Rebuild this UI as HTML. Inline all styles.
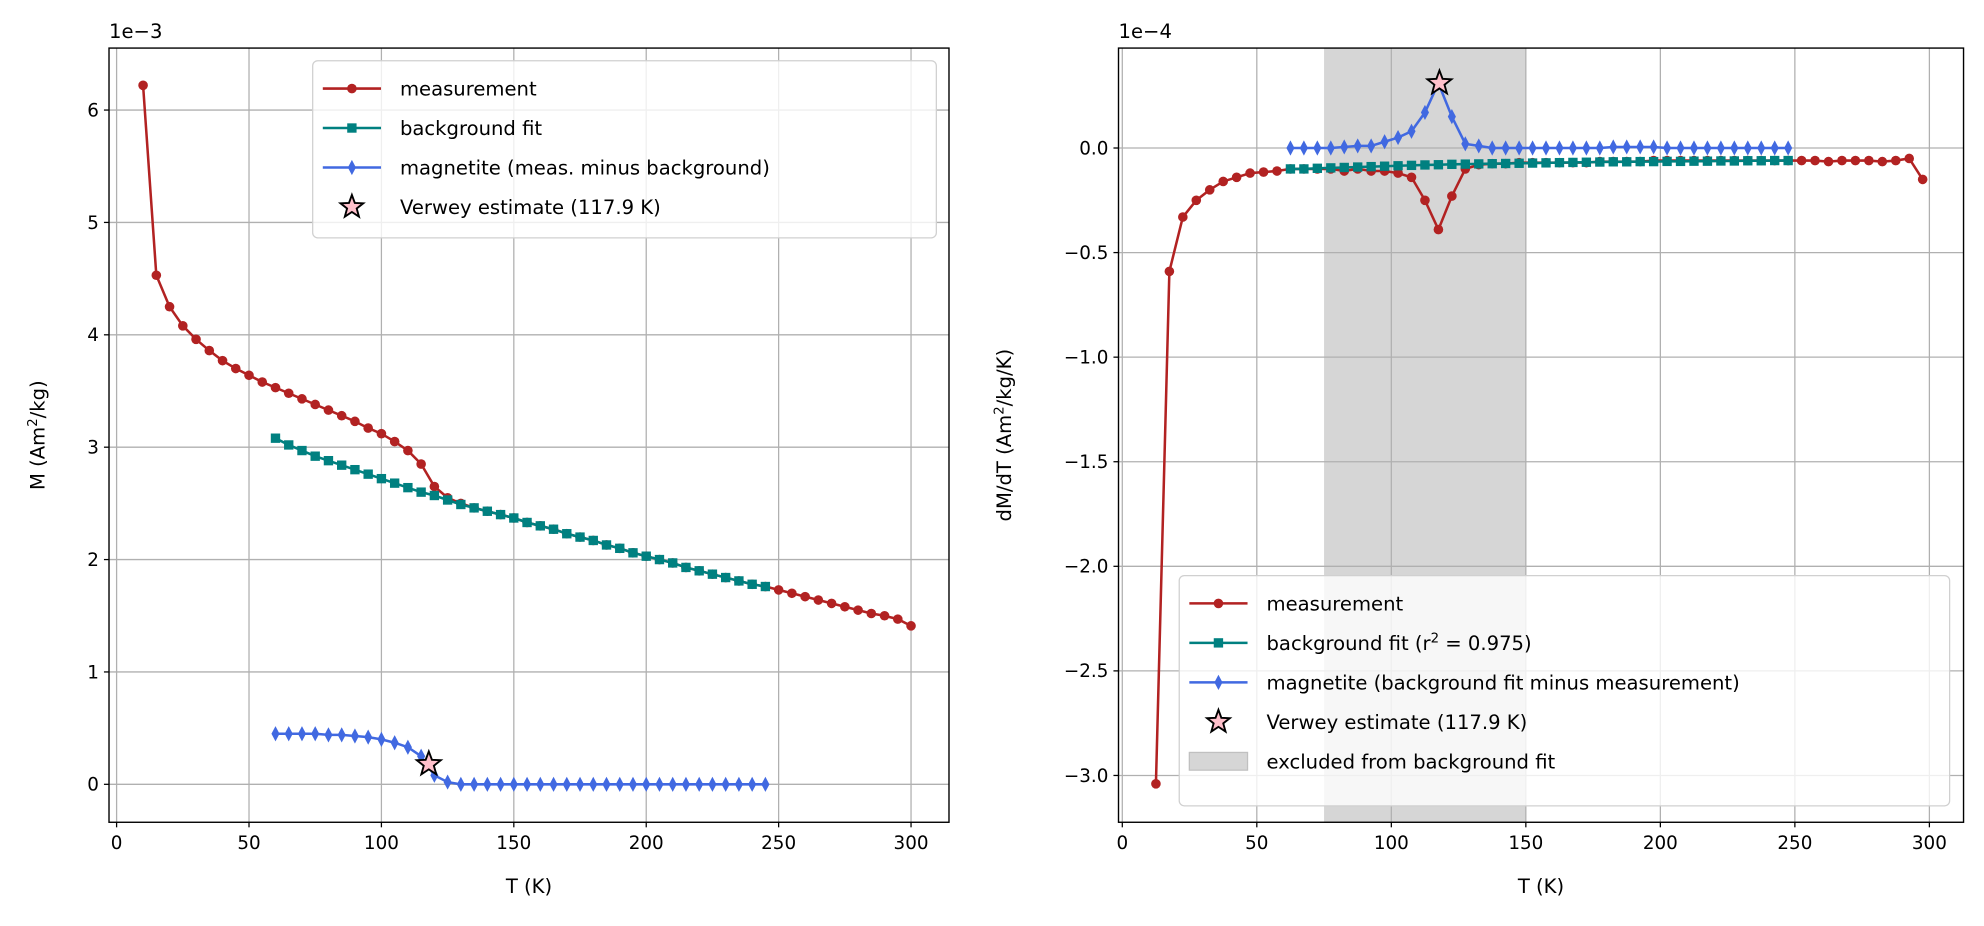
<!DOCTYPE html>
<html><head><meta charset="utf-8"><style>
body{margin:0;background:#fff}
svg{display:block;font-family:"DejaVu Sans","Liberation Sans",sans-serif}
</style></head><body>
<svg id="fig" width="1984" height="926" viewBox="0 0 1568 732" xmlns="http://www.w3.org/2000/svg">
<rect width="1568" height="732" fill="#fff"/>
</svg>
<script>
// ---- Left panel data (M, 1e-3 Am2/kg) ----
const leftMeasT = [10,15,20,25,30,35,40,45,50,55,60,65,70,75,80,85,90,95,100,105,110,115,120,125,130,135,140,145,150,155,160,165,170,175,180,185,190,195,200,205,210,215,220,225,230,235,240,245,250,255,260,265,270,275,280,285,290,295,300];
const leftMeasM = [6.22,4.53,4.25,4.08,3.96,3.86,3.77,3.70,3.64,3.58,3.53,3.48,3.43,3.38,3.33,3.28,3.23,3.17,3.12,3.05,2.97,2.85,2.65,2.55,2.50,2.46,2.43,2.40,2.37,2.33,2.30,2.27,2.23,2.20,2.17,2.13,2.10,2.06,2.03,2.00,1.97,1.93,1.90,1.87,1.84,1.81,1.78,1.76,1.73,1.70,1.67,1.64,1.61,1.58,1.55,1.52,1.50,1.47,1.41];
const leftFitT = [60,65,70,75,80,85,90,95,100,105,110,115,120,125,130,135,140,145,150,155,160,165,170,175,180,185,190,195,200,205,210,215,220,225,230,235,240,245];
const leftFitM = [3.08,3.02,2.97,2.92,2.88,2.84,2.80,2.76,2.72,2.68,2.64,2.60,2.57,2.53,2.49,2.46,2.43,2.40,2.37,2.33,2.30,2.27,2.23,2.20,2.17,2.13,2.10,2.06,2.03,2.00,1.97,1.93,1.90,1.87,1.84,1.81,1.78,1.76];
const leftMagM = [0.45,0.45,0.45,0.45,0.44,0.44,0.43,0.42,0.40,0.37,0.33,0.25,0.08,0.02,0,0,0,0,0,0,0,0,0,0,0,0,0,0,0,0,0,0,0,0,0,0,0,0];
const leftStar = [117.9, 0.18];
const leftXTicks = [0,50,100,150,200,250,300];
const leftYTicks = [0,1,2,3,4,5,6];
// ---- Right panel data (dM/dT, 1e-4) ----
const rightMeasT = [12.5,17.5,22.5,27.5,32.5,37.5,42.5,47.5,52.5,57.5,62.5,67.5,72.5,77.5,82.5,87.5,92.5,97.5,102.5,107.5,112.5,117.5,122.5,127.5,132.5,137.5,142.5,147.5,152.5,157.5,162.5,167.5,172.5,177.5,182.5,187.5,192.5,197.5,202.5,207.5,212.5,217.5,222.5,227.5,232.5,237.5,242.5,247.5,252.5,257.5,262.5,267.5,272.5,277.5,282.5,287.5,292.5,297.5];
const rightMeasV = [-3.04,-0.59,-0.33,-0.25,-0.20,-0.16,-0.14,-0.12,-0.115,-0.11,-0.10,-0.10,-0.10,-0.10,-0.11,-0.10,-0.11,-0.11,-0.12,-0.14,-0.25,-0.39,-0.23,-0.10,-0.08,-0.075,-0.075,-0.07,-0.07,-0.07,-0.07,-0.07,-0.07,-0.065,-0.065,-0.065,-0.065,-0.06,-0.06,-0.06,-0.06,-0.06,-0.06,-0.06,-0.06,-0.06,-0.06,-0.06,-0.06,-0.06,-0.065,-0.06,-0.06,-0.06,-0.065,-0.06,-0.05,-0.15];
const rightFitT = [62.5,67.5,72.5,77.5,82.5,87.5,92.5,97.5,102.5,107.5,112.5,117.5,122.5,127.5,132.5,137.5,142.5,147.5,152.5,157.5,162.5,167.5,172.5,177.5,182.5,187.5,192.5,197.5,202.5,207.5,212.5,217.5,222.5,227.5,232.5,237.5,242.5,247.5];
const rightFitV = [-0.10,-0.10,-0.097,-0.095,-0.093,-0.091,-0.089,-0.087,-0.085,-0.083,-0.081,-0.080,-0.078,-0.077,-0.076,-0.075,-0.074,-0.073,-0.072,-0.071,-0.070,-0.069,-0.068,-0.067,-0.066,-0.066,-0.065,-0.065,-0.064,-0.064,-0.063,-0.063,-0.062,-0.062,-0.061,-0.061,-0.060,-0.060];
const rightMagV = [0,0,0,0,0.005,0.01,0.01,0.03,0.05,0.08,0.17,0.31,0.15,0.02,0.01,0,0,0,0,0,0,0,0,0,0.005,0.005,0.005,0.005,0,0,0,0,0,0,0,0,0,0];
const rightStar = [117.9, 0.31];
const rightXTicks = [0,50,100,150,200,250,300];
const rightYTicks = [0,-0.5,-1.0,-1.5,-2.0,-2.5,-3.0];
const excluded = [75,150];

const NS="http://www.w3.org/2000/svg";
const svg=document.getElementById('fig');
function mk(tag,attrs,parent){const e=document.createElementNS(NS,tag);for(const k in attrs)e.setAttribute(k,attrs[k]);(parent||svg).appendChild(e);return e;}
function txt(s,attrs,parent){const e=mk('text',attrs,parent);e.textContent=s;return e;}
const RED="#b22222",TEAL="#008080",BLUE="#4169e1";

function axes(cfg){
  const g=mk('g',{});
  
  
  const X=v=>cfg.x0+(v-cfg.xmin)*(cfg.x1-cfg.x0)/(cfg.xmax-cfg.xmin);
  const Y=v=>cfg.y0+(v-cfg.ymin)*(cfg.y1-cfg.y0)/(cfg.ymax-cfg.ymin);
  if(cfg.span){const r=mk('rect',{x:X(cfg.span[0]),y:cfg.top,width:X(cfg.span[1])-X(cfg.span[0]),height:cfg.bottom-cfg.top,fill:'#d6d6d6'},g);
    
    }
  cfg.xt.forEach(t=>{mk('line',{x1:X(t),x2:X(t),y1:cfg.top,y2:cfg.bottom,stroke:'#b0b0b0','stroke-width':1},g);
    mk('line',{x1:X(t),x2:X(t),y1:cfg.bottom,y2:cfg.bottom+4,stroke:'#000','stroke-width':1},g);
    const l=txt(String(t),{x:X(t),y:cfg.bottom+21,'text-anchor':'middle','font-size':14.5},g);
    
    });
  cfg.yt.forEach(t=>{mk('line',{x1:cfg.left,x2:cfg.right,y1:Y(t),y2:Y(t),stroke:'#b0b0b0','stroke-width':1},g);
    mk('line',{x1:cfg.left-4,x2:cfg.left,y1:Y(t),y2:Y(t),stroke:'#000','stroke-width':1},g);
    const s=cfg.fmt?cfg.fmt(t):String(t);
    const l=txt(s,{x:cfg.left-8,y:Y(t)+5,'text-anchor':'end','font-size':14.5},g);
    
    });
  const series=(xs,ys,color,marker,name)=>{
    const sg=mk('g',{},g);
    
    
    mk('polyline',{points:xs.map((x,i)=>X(x)+','+Y(ys[i])).join(' '),fill:'none',stroke:color,'stroke-width':2},sg);
    xs.forEach((x,i)=>drawMarker(sg,marker,X(x),Y(ys[i]),color));
  };
  cfg.series.forEach(s=>series(s[0],s[1],s[2],s[3],s[4]));
  const st=mk('polygon',{points:starPts(X(cfg.star[0]),Y(cfg.star[1]),10),fill:'#ffc0cb',stroke:'#000','stroke-width':1.5},g);
  
  
  mk('rect',{x:cfg.left,y:cfg.top,width:cfg.right-cfg.left,height:cfg.bottom-cfg.top,fill:'none',stroke:'#000','stroke-width':1.1},g);
  return g;
}
function starPts(cx,cy,r){let p=[];for(let i=0;i<10;i++){const a=-Math.PI/2+i*Math.PI/5;const rr=i%2?r*0.42:r;p.push((cx+rr*Math.cos(a)).toFixed(1)+','+(cy+rr*Math.sin(a)).toFixed(1));}return p.join(' ');}
function drawMarker(g,m,x,y,c){
  if(m==='o')mk('circle',{cx:x,cy:y,r:3.8,fill:c},g);
  else if(m==='s')mk('rect',{x:x-3.7,y:y-3.7,width:7.4,height:7.4,fill:c},g);
  else mk('polygon',{points:`${x},${y-6} ${x+3.2},${y} ${x},${y+6} ${x-3.2},${y}`,fill:c},g);
}
function legend(x,y,w,h,items,name){
  const g=mk('g',{});
  
  
  mk('rect',{x,y,width:w,height:h,rx:4,fill:'rgba(255,255,255,0.8)',stroke:'#d0d0d0','stroke-width':1},g);
  items.forEach((it,i)=>{
    const cy=y+22+i*31.2;
    const eg=mk('g',{},g);
    
    
    if(it.type==='line'){mk('line',{x1:x+8,x2:x+54,y1:cy,y2:cy,stroke:it.c,'stroke-width':2},eg);drawMarker(eg,it.m,x+31,cy,it.c);}
    else if(it.type==='star'){mk('polygon',{points:starPts(x+31,cy,9.5),fill:'#ffc0cb',stroke:'#000','stroke-width':1.5},eg);}
    else {mk('rect',{x:x+8,y:cy-7,width:46,height:14,fill:'#d6d6d6',stroke:'#c0c0c0'},eg);}
    const t=mk('text',{x:x+69,y:cy+5.5,'font-size':15.5},eg);
    t.innerHTML=it.t;
  });
}

axes({name:'left-axes',left:86,right:750,top:38,bottom:650,xmin:0,xmax:300,x0:92,x1:720,ymin:0,ymax:6,y0:620,y1:87,
  xt:leftXTicks,yt:leftYTicks,star:leftStar,
  series:[[leftMeasT,leftMeasM,RED,'o','measurement-series'],[leftFitT,leftFitM,TEAL,'s','background-fit-series'],[leftFitT,leftMagM,BLUE,'d','magnetite-series']]});
axes({name:'right-axes',left:884,right:1552,top:38,bottom:650,xmin:0,xmax:300,x0:887,x1:1525,ymin:0,ymax:-3,y0:117,y1:613,
  xt:rightXTicks,yt:rightYTicks,star:rightStar,span:excluded,fmt:t=>(t<0?'\u2212':'')+Math.abs(t).toFixed(1),
  series:[[rightMeasT,rightMeasV,RED,'o','measurement-series'],[rightFitT,rightFitV,TEAL,'s','background-fit-series'],[rightFitT,rightMagV,BLUE,'d','magnetite-series']]});

legend(247,48,493,140,[{type:'line',c:RED,m:'o',t:'measurement'},{type:'line',c:TEAL,m:'s',t:'background fit'},{type:'line',c:BLUE,m:'d',t:'magnetite (meas. minus background)'},{type:'star',t:'Verwey estimate (117.9 K)'}],'left-legend');
legend(932,455,609,182,[{type:'line',c:RED,m:'o',t:'measurement'},{type:'line',c:TEAL,m:'s',t:'background fit (r<tspan dy="-6" font-size="10.5">2</tspan><tspan dy="6"> = 0.975)</tspan>'},{type:'line',c:BLUE,m:'d',t:'magnetite (background fit minus measurement)'},{type:'star',t:'Verwey estimate (117.9 K)'},{type:'patch',t:'excluded from background fit'}],'right-legend');

let e;
e=txt('1e\u22123',{x:86,y:30,'font-size':15.5});


e=txt('1e\u22124',{x:884,y:30,'font-size':15.5});


e=txt('T (K)',{x:418,y:706,'text-anchor':'middle','font-size':15.5});


e=txt('T (K)',{x:1218,y:706,'text-anchor':'middle','font-size':15.5});


e=mk('text',{x:0,y:0,'text-anchor':'middle','font-size':15.5,transform:'translate(35,344) rotate(-90)'});
e.innerHTML='M (Am<tspan dy="-6" font-size="10.5">2</tspan><tspan dy="6">/kg)</tspan>';


e=mk('text',{x:0,y:0,'text-anchor':'middle','font-size':15.5,transform:'translate(799,344) rotate(-90)'});
e.innerHTML='dM/dT (Am<tspan dy="-6" font-size="10.5">2</tspan><tspan dy="6">/kg/K)</tspan>';


</script>
</body></html>
